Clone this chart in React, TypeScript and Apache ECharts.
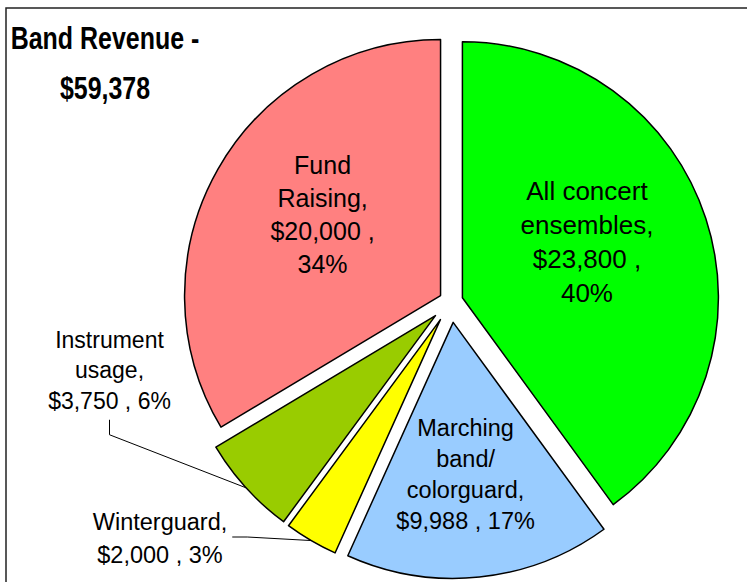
import React, { useEffect, useRef } from 'react';
import * as echarts from 'echarts';

// ---- data ----
const categories = [
  'All concert ensembles',
  'Marching band/colorguard',
  'Winterguard',
  'Instrument usage',
  'Fund Raising',
];
const revenue = [23800, 9988, 2000, 3750, 20000];
const sliceColors = ['#00FF00', '#99CCFF', '#FFFF00', '#99CC00', '#FF8080'];
const titleLines = ['Band Revenue -', '$59,378'];

// ---- layout / style (not data) ----
const PIE_CENTER = [451, 301.5];
const PIE_RADIUS = 256;
const explode = [12, 21, 21, 21, 12];
const FONT = '"Liberation Sans", Arial, Helvetica, sans-serif';

type LabelCfg = {
  outside: boolean;
  fontSize: number;
  lineHeight: number;
  nameBreaks: number[]; // word indices after which the name wraps
  breakValue: boolean; // wrap between the value and the percent
  dx?: number;
  dy?: number;
  x?: number;
  y?: number;
  line?: 'below' | 'right';
};
const labelCfg: LabelCfg[] = [
  { outside: false, fontSize: 26, lineHeight: 34, nameBreaks: [1], breakValue: true, dx: 0, dy: -15 },
  { outside: false, fontSize: 23.5, lineHeight: 31, nameBreaks: [0], breakValue: false, dx: -1, dy: 22 },
  { outside: true, fontSize: 23.5, lineHeight: 33, nameBreaks: [], breakValue: false, x: 160, y: 538, line: 'right' },
  { outside: true, fontSize: 23, lineHeight: 30.5, nameBreaks: [0], breakValue: false, x: 109.5, y: 370, line: 'below' },
  { outside: false, fontSize: 25, lineHeight: 33, nameBreaks: [0], breakValue: true, dx: -4, dy: -17 },
];

const wrapName = (name: string, breaks: number[]) => {
  // split on spaces and after "/" so "band/colorguard" can wrap
  const words = name.replace('/', '/ ').split(' ').filter(Boolean);
  let out = '';
  words.forEach((w, k) => {
    out += w;
    if (k < words.length - 1) {
      if (breaks.includes(k) || w.endsWith('/')) out += '\n';
      else out += ' ';
    }
  });
  return out;
};

export default function App() {
  const ref = useRef<HTMLDivElement>(null);

  useEffect(() => {
    if (!ref.current) return;
    const chart = echarts.init(ref.current, undefined, { renderer: 'svg' });
    const total = revenue.reduce((a, b) => a + b, 0);

    // mid angle of each slice (clockwise from 12 o'clock)
    let acc = 0;
    const mids = revenue.map((v) => {
      const m = ((acc + v / 2) / total) * Math.PI * 2;
      acc += v;
      return m;
    });
    const centers = mids.map((m, i) => [
      PIE_CENTER[0] + explode[i] * Math.sin(m),
      PIE_CENTER[1] - explode[i] * Math.cos(m),
    ]);

    const series = revenue.map((_, i) => {
      const cfg = labelCfg[i];
      const anchor = [
        centers[i][0] + PIE_RADIUS * Math.sin(mids[i]),
        centers[i][1] - PIE_RADIUS * Math.cos(mids[i]),
      ];
      const fmt = (p: any) =>
        `${wrapName(p.name, cfg.nameBreaks)},\n$${Number(p.value).toLocaleString('en-US')} ,${
          cfg.breakValue ? '\n' : ' '
        }${p.percent}%`;
      return {
        type: 'pie',
        center: centers[i],
        radius: [0, PIE_RADIUS],
        startAngle: 90,
        clockwise: true,
        percentPrecision: 0,
        avoidLabelOverlap: false,
        selectedMode: false,
        silent: true,
        emphasis: { disabled: true },
        data: categories.map((name, j) => {
          const own = i === j;
          return {
            name,
            value: revenue[j],
            itemStyle: own
              ? { color: sliceColors[j], borderColor: '#000', borderWidth: 1.5 }
              : { color: 'rgba(0,0,0,0)', borderWidth: 0 },
            label: own
              ? {
                  show: true,
                  position: cfg.outside ? 'outside' : 'inside',
                  formatter: fmt,
                  color: '#000',
                  fontFamily: FONT,
                  fontSize: cfg.fontSize,
                  lineHeight: cfg.lineHeight,
                  align: 'center',
                }
              : { show: false },
            labelLine: own && cfg.outside
              ? { show: true, lineStyle: { color: '#000', width: 1 } }
              : { show: false },
          };
        }),
        labelLayout: (params: any) => {
          if (params.dataIndex !== i) return {};
          if (!cfg.outside) {
            return { dx: cfg.dx, dy: cfg.dy };
          }
          const w = params.labelRect.width;
          const h = params.labelRect.height;
          const x = cfg.x as number;
          const y = cfg.y as number;
          let pts;
          if (cfg.line === 'below') {
            const b = y + h / 2;
            pts = [anchor, [x, b + 19], [x, b + 4]];
          } else {
            const r = x + w / 2;
            pts = [anchor, [r + 20, y - 1], [r + 5, y - 1]];
          }
          return {
            x,
            y,
            align: 'center',
            verticalAlign: 'middle',
            labelLinePoints: pts,
          };
        },
      };
    });

    chart.setOption({
      animation: false,
      backgroundColor: '#fff',
      graphic: [
        {
          type: 'rect',
          shape: { x: 6, y: 8, width: 760, height: 600 },
          style: { fill: 'none', stroke: '#222', lineWidth: 1.5 },
          silent: true,
        },
        {
          type: 'text',
          x: 105,
          y: 13,
          scaleX: 0.78,
          style: {
            text: titleLines.join('\n'),
            fill: '#000',
            fontSize: 32,
            fontWeight: 'bold',
            fontFamily: FONT,
            lineHeight: 50,
            textAlign: 'center',
            textVerticalAlign: 'top',
          },
          silent: true,
        },
      ],
      series,
    });

    return () => chart.dispose();
  }, []);

  return (
    <div
      ref={ref}
      style={{ position: 'absolute', left: 0, top: 0, width: 747, height: 582 }}
    />
  );
}
